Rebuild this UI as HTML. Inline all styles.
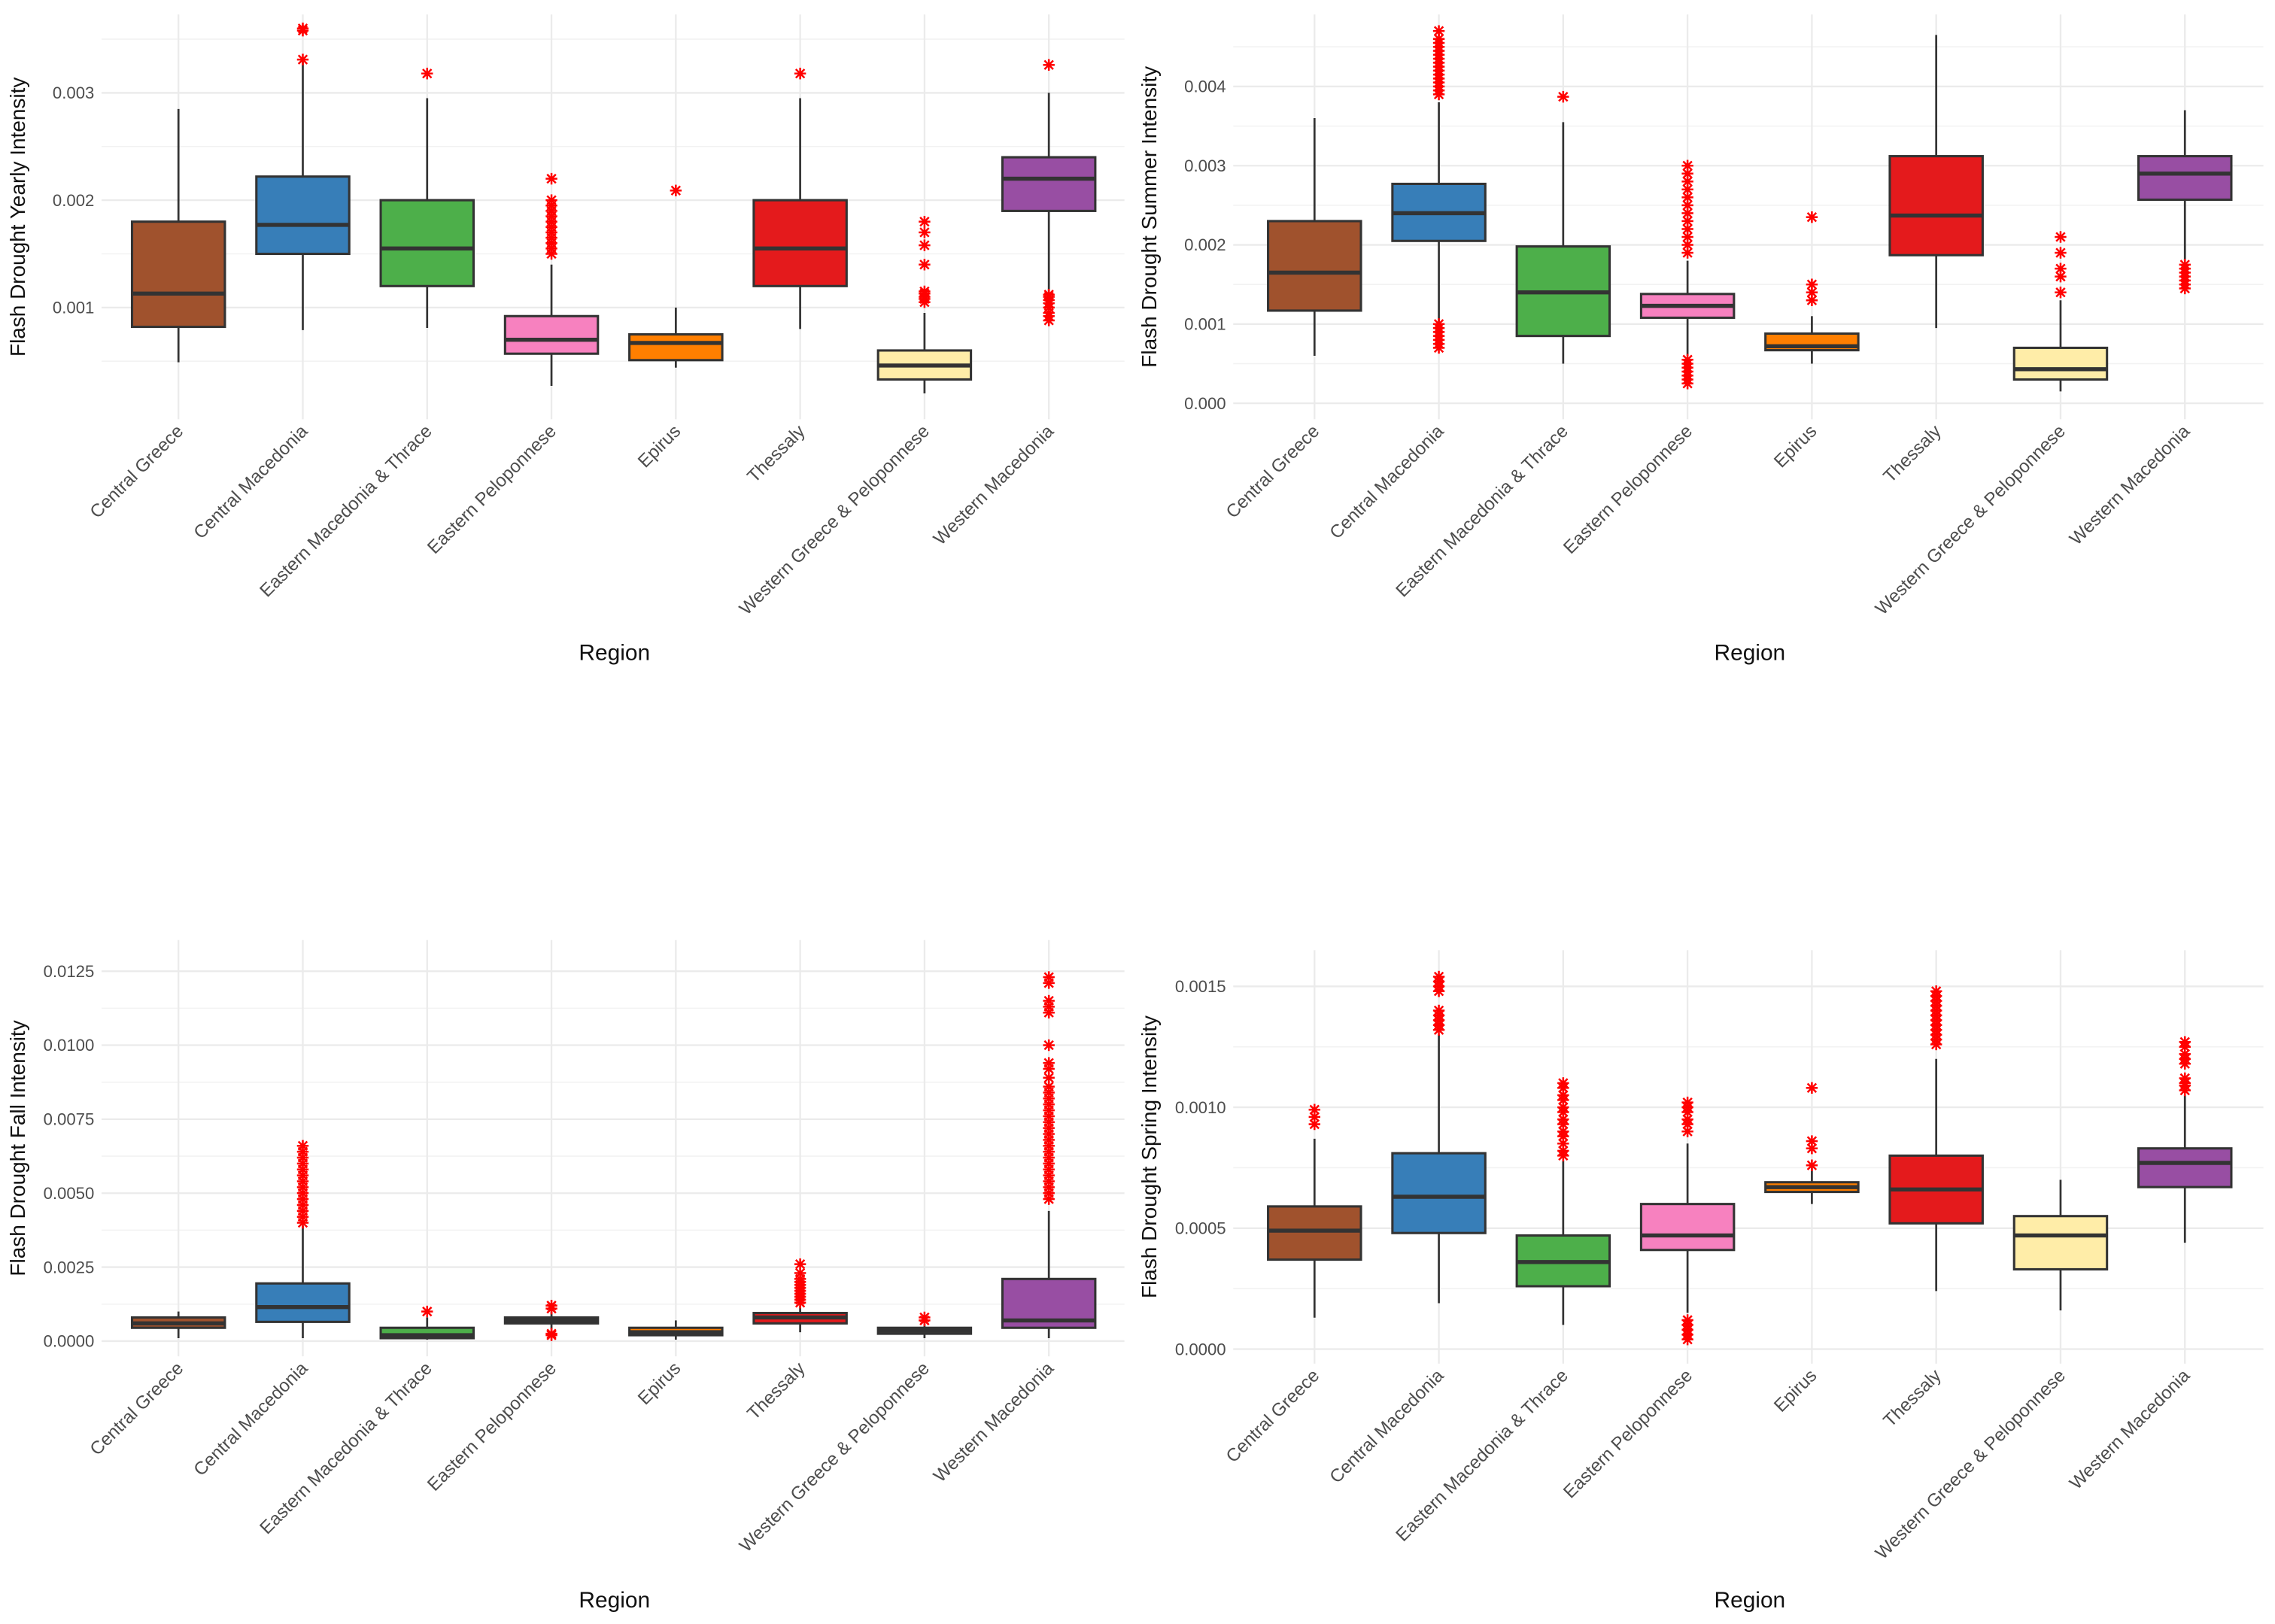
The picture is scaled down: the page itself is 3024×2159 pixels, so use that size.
<!DOCTYPE html>
<html><head><meta charset="utf-8"><style>
html,body{margin:0;padding:0;background:#fff;}
svg{display:block;}
text{font-family:"Liberation Sans",sans-serif;}
</style></head>
<body>
<svg id="chart" width="3024" height="2159" viewBox="0 0 1568 1119.5" preserveAspectRatio="none" xmlns="http://www.w3.org/2000/svg"></svg>
<script>
const categories = ["Central Greece","Central Macedonia","Eastern Macedonia & Thrace","Eastern Peloponnese","Epirus","Thessaly","Western Greece & Peloponnese","Western Macedonia"];
const colors = ["#A0522D","#377EB8","#4DAF4A","#F781BF","#FF7F00","#E41A1C","#FFEDA8","#984EA3"];

// [low whisker, q1, median, q3, high whisker]
const yearlyStats = [[0.00049,0.00082,0.00113,0.0018,0.00285],[0.00079,0.0015,0.00177,0.00222,0.0033],[0.00081,0.0012,0.00155,0.002,0.00295],[0.00027,0.00057,0.0007,0.00092,0.0014],[0.00044,0.00051,0.00067,0.00075,0.001],[0.0008,0.0012,0.00155,0.002,0.00295],[0.0002,0.00033,0.00046,0.0006,0.00095],[0.00115,0.0019,0.0022,0.0024,0.003]];
const yearlyOutliers = [[],[0.00331,0.00358,0.0036],[0.00318],[0.0015,0.00155,0.0016,0.00165,0.0017,0.00175,0.0018,0.00185,0.0019,0.00195,0.002,0.0022],[0.00209],[0.00318],[0.00105,0.00108,0.0011,0.00113,0.00115,0.0014,0.00158,0.0017,0.0018],[0.00088,0.00092,0.00095,0.001,0.00104,0.00107,0.0011,0.00112,0.00326]];
const yearlyTicks = [0.001,0.002,0.003];
const yearlyTickLabels = ["0.001","0.002","0.003"];

const summerStats = [[0.0006,0.00117,0.00165,0.0023,0.0036],[0.001,0.00205,0.0024,0.00277,0.0038],[0.0005,0.00085,0.0014,0.00198,0.00355],[0.0006,0.00108,0.00123,0.00138,0.0018],[0.0005,0.00067,0.00072,0.00088,0.0011],[0.00095,0.00187,0.00237,0.00312,0.00465],[0.00015,0.0003,0.00043,0.0007,0.0013],[0.0018,0.00257,0.0029,0.00312,0.0037]];
const summerOutliers = [[],[0.0007,0.00075,0.0008,0.00085,0.0009,0.00095,0.001,0.0039,0.00395,0.004,0.00405,0.0041,0.00415,0.0042,0.00425,0.0043,0.00435,0.0044,0.00445,0.0045,0.00455,0.0046,0.0047],[0.00387],[0.00025,0.0003,0.00035,0.0004,0.00045,0.0005,0.00055,0.0019,0.002,0.0021,0.0022,0.0023,0.0024,0.0025,0.0026,0.0027,0.0028,0.0029,0.003],[0.0013,0.0014,0.0015,0.00235],[],[0.0014,0.0016,0.0017,0.0019,0.0021],[0.00145,0.0015,0.00155,0.0016,0.00165,0.0017,0.00175]];
const summerTicks = [0,0.001,0.002,0.003,0.004];
const summerTickLabels = ["0.000","0.001","0.002","0.003","0.004"];

const fallStats = [[0.0001,0.00045,0.0006,0.0008,0.001],[0.0001,0.00065,0.00115,0.00195,0.0039],[0.00005,0.0001,0.0002,0.00045,0.0008],[0.0004,0.0006,0.0007,0.0008,0.001],[0.00005,0.0002,0.0003,0.00045,0.0007],[0.0003,0.0006,0.0008,0.00095,0.0012],[0.0001,0.00025,0.00035,0.00045,0.0006],[0.0001,0.00045,0.0007,0.0021,0.0044]];
const fallOutliers = [[],[0.004,0.0042,0.0044,0.0046,0.0048,0.005,0.0052,0.0054,0.0056,0.0058,0.006,0.0062,0.0064,0.0066],[0.001],[0.0002,0.00025,0.0011,0.0012],[],[0.0013,0.0014,0.0015,0.0016,0.0017,0.0018,0.0019,0.002,0.0021,0.0023,0.0026],[0.0007,0.0008],[0.0048,0.005,0.0052,0.0054,0.0056,0.0058,0.006,0.0062,0.0064,0.0066,0.0068,0.007,0.0072,0.0074,0.0076,0.0078,0.008,0.0082,0.0084,0.0086,0.0089,0.0092,0.0094,0.01,0.0111,0.0113,0.0115,0.0121,0.0123]];
const fallTicks = [0,0.0025,0.005,0.0075,0.01,0.0125];
const fallTickLabels = ["0.0000","0.0025","0.0050","0.0075","0.0100","0.0125"];

const springStats = [[0.00013,0.00037,0.00049,0.00059,0.00087],[0.00019,0.00048,0.00063,0.00081,0.0013],[0.0001,0.00026,0.00036,0.00047,0.00078],[0.00015,0.00041,0.00047,0.0006,0.00085],[0.0006,0.00065,0.00067,0.00069,0.00075],[0.00024,0.00052,0.00066,0.0008,0.0012],[0.00016,0.00033,0.00047,0.00055,0.0007],[0.00044,0.00067,0.00077,0.00083,0.00105]];
const springOutliers = [[0.00093,0.00096,0.00099],[0.00132,0.00134,0.00136,0.00138,0.0014,0.00148,0.0015,0.00152,0.00154],[0.0008,0.00082,0.00085,0.00088,0.0009,0.00093,0.00095,0.00098,0.001,0.00103,0.00105,0.00108,0.0011],[0.00004,0.00006,0.00008,0.0001,0.00012,0.0009,0.00093,0.00095,0.00098,0.001,0.00102],[0.00076,0.00083,0.00086,0.00108],[0.00126,0.00128,0.0013,0.00132,0.00134,0.00136,0.00138,0.0014,0.00142,0.00144,0.00146,0.00148],[],[0.00107,0.00109,0.0011,0.00112,0.00118,0.0012,0.00122,0.00125,0.00127]];
const springTicks = [0,0.0005,0.001,0.0015];
const springTickLabels = ["0.0000","0.0005","0.0010","0.0015"];

const NS="http://www.w3.org/2000/svg";
const svg=document.getElementById('chart');
function mk(tag,attrs,parent){const e=document.createElementNS(NS,tag);for(const k in attrs)e.setAttribute(k,attrs[k]);(parent||svg).appendChild(e);return e;}

function panel(cfg){
  const g=mk('g',{});
  
  
  const y=v=>cfg.y0-(v-cfg.v0)*cfg.k;
  const x=i=>cfg.x0+i*cfg.dx;
  for(let i=0;i<cfg.ticks.length+1;i++){
    const step=cfg.ticks[1]-cfg.ticks[0];
    const mv=cfg.ticks[0]+(i-0.5)*step;
    const yy=y(mv);
    if(yy<cfg.top||yy>cfg.bottom)continue;
    const l=mk('line',{x1:cfg.left,x2:cfg.right,y1:yy,y2:yy,stroke:'#f2f2f2','stroke-width':0.8},g);
    
    
  }
  cfg.ticks.forEach((t,i)=>{
    const yy=y(t);
    const l=mk('line',{x1:cfg.left,x2:cfg.right,y1:yy,y2:yy,stroke:'#ebebeb','stroke-width':1.2},g);
    
    
    const tx=mk('text',{x:cfg.left-5,y:yy+4,'text-anchor':'end','font-size':11.5,fill:'#4d4d4d'},g);
    tx.textContent=cfg.tickLabels[i];
    
    
  });
  categories.forEach((c,i)=>{
    const l=mk('line',{x1:x(i),x2:x(i),y1:cfg.top,y2:cfg.bottom,stroke:'#ebebeb','stroke-width':1.2},g);
    
    
  });
  const bw=64;
  categories.forEach((c,i)=>{
    const s=cfg.stats[i], cx=x(i);
    const w=mk('line',{x1:cx,x2:cx,y1:y(s[0]),y2:y(s[4]),stroke:'#333','stroke-width':1.4},g);
    
    
    const r=mk('rect',{x:cx-bw/2,y:y(s[3]),width:bw,height:Math.max(1,y(s[1])-y(s[3])),fill:colors[i],stroke:'#333','stroke-width':1.6},g);
    
    
    const m=mk('line',{x1:cx-bw/2,x2:cx+bw/2,y1:y(s[2]),y2:y(s[2]),stroke:'#333','stroke-width':2.8},g);
    
    
    cfg.out[i].forEach(v=>{
      const p=mk('g',{transform:`translate(${cx},${y(v)})`,stroke:'#ff0000','stroke-width':1.3},g);
      
      
      mk('line',{x1:-4,x2:4,y1:0,y2:0},p);
      mk('line',{x1:0,x2:0,y1:-4,y2:4},p);
      mk('line',{x1:-3,x2:3,y1:-3,y2:3},p);
      mk('line',{x1:-3,x2:3,y1:3,y2:-3},p);
    });
    const t=mk('text',{transform:`translate(${cx+4},${cfg.bottom+9}) rotate(-45)`,'text-anchor':'end','font-size':12.5,fill:'#4d4d4d'},g);
    t.textContent=c;
    
    
  });
  const xt=mk('text',{x:(cfg.left+cfg.right)/2+1,y:cfg.regionY,'text-anchor':'middle','font-size':15.5,fill:'#111'},g);
  xt.textContent='Region';
  
  
  const yt=mk('text',{transform:`translate(${cfg.left-53},${(cfg.top+cfg.bottom)/2}) rotate(-90)`,'text-anchor':'middle','font-size':14.5,fill:'#111'},g);
  yt.textContent=cfg.title;
  
  
}

panel({name:'yearly-panel',title:'Flash Drought Yearly Intensity',stats:yearlyStats,out:yearlyOutliers,ticks:yearlyTicks,tickLabels:yearlyTickLabels,
  x0:123,dx:85.7,y0:212,v0:0.001,k:74000,left:70,right:775,top:10,bottom:289,regionY:455});
panel({name:'summer-panel',title:'Flash Drought Summer Intensity',stats:summerStats,out:summerOutliers,ticks:summerTicks,tickLabels:summerTickLabels,
  x0:906,dx:85.7,y0:278,v0:0,k:54600,left:850,right:1560,top:10,bottom:289,regionY:455});
panel({name:'fall-panel',title:'Flash Drought Fall Intensity',stats:fallStats,out:fallOutliers,ticks:fallTicks,tickLabels:fallTickLabels,
  x0:123,dx:85.7,y0:924.5,v0:0,k:20400,left:70,right:775,top:648,bottom:935,regionY:1108});
panel({name:'spring-panel',title:'Flash Drought Spring Intensity',stats:springStats,out:springOutliers,ticks:springTicks,tickLabels:springTickLabels,
  x0:906,dx:85.7,y0:930,v0:0,k:166700,left:850,right:1560,top:655,bottom:940,regionY:1108});
</script>
</body></html>
